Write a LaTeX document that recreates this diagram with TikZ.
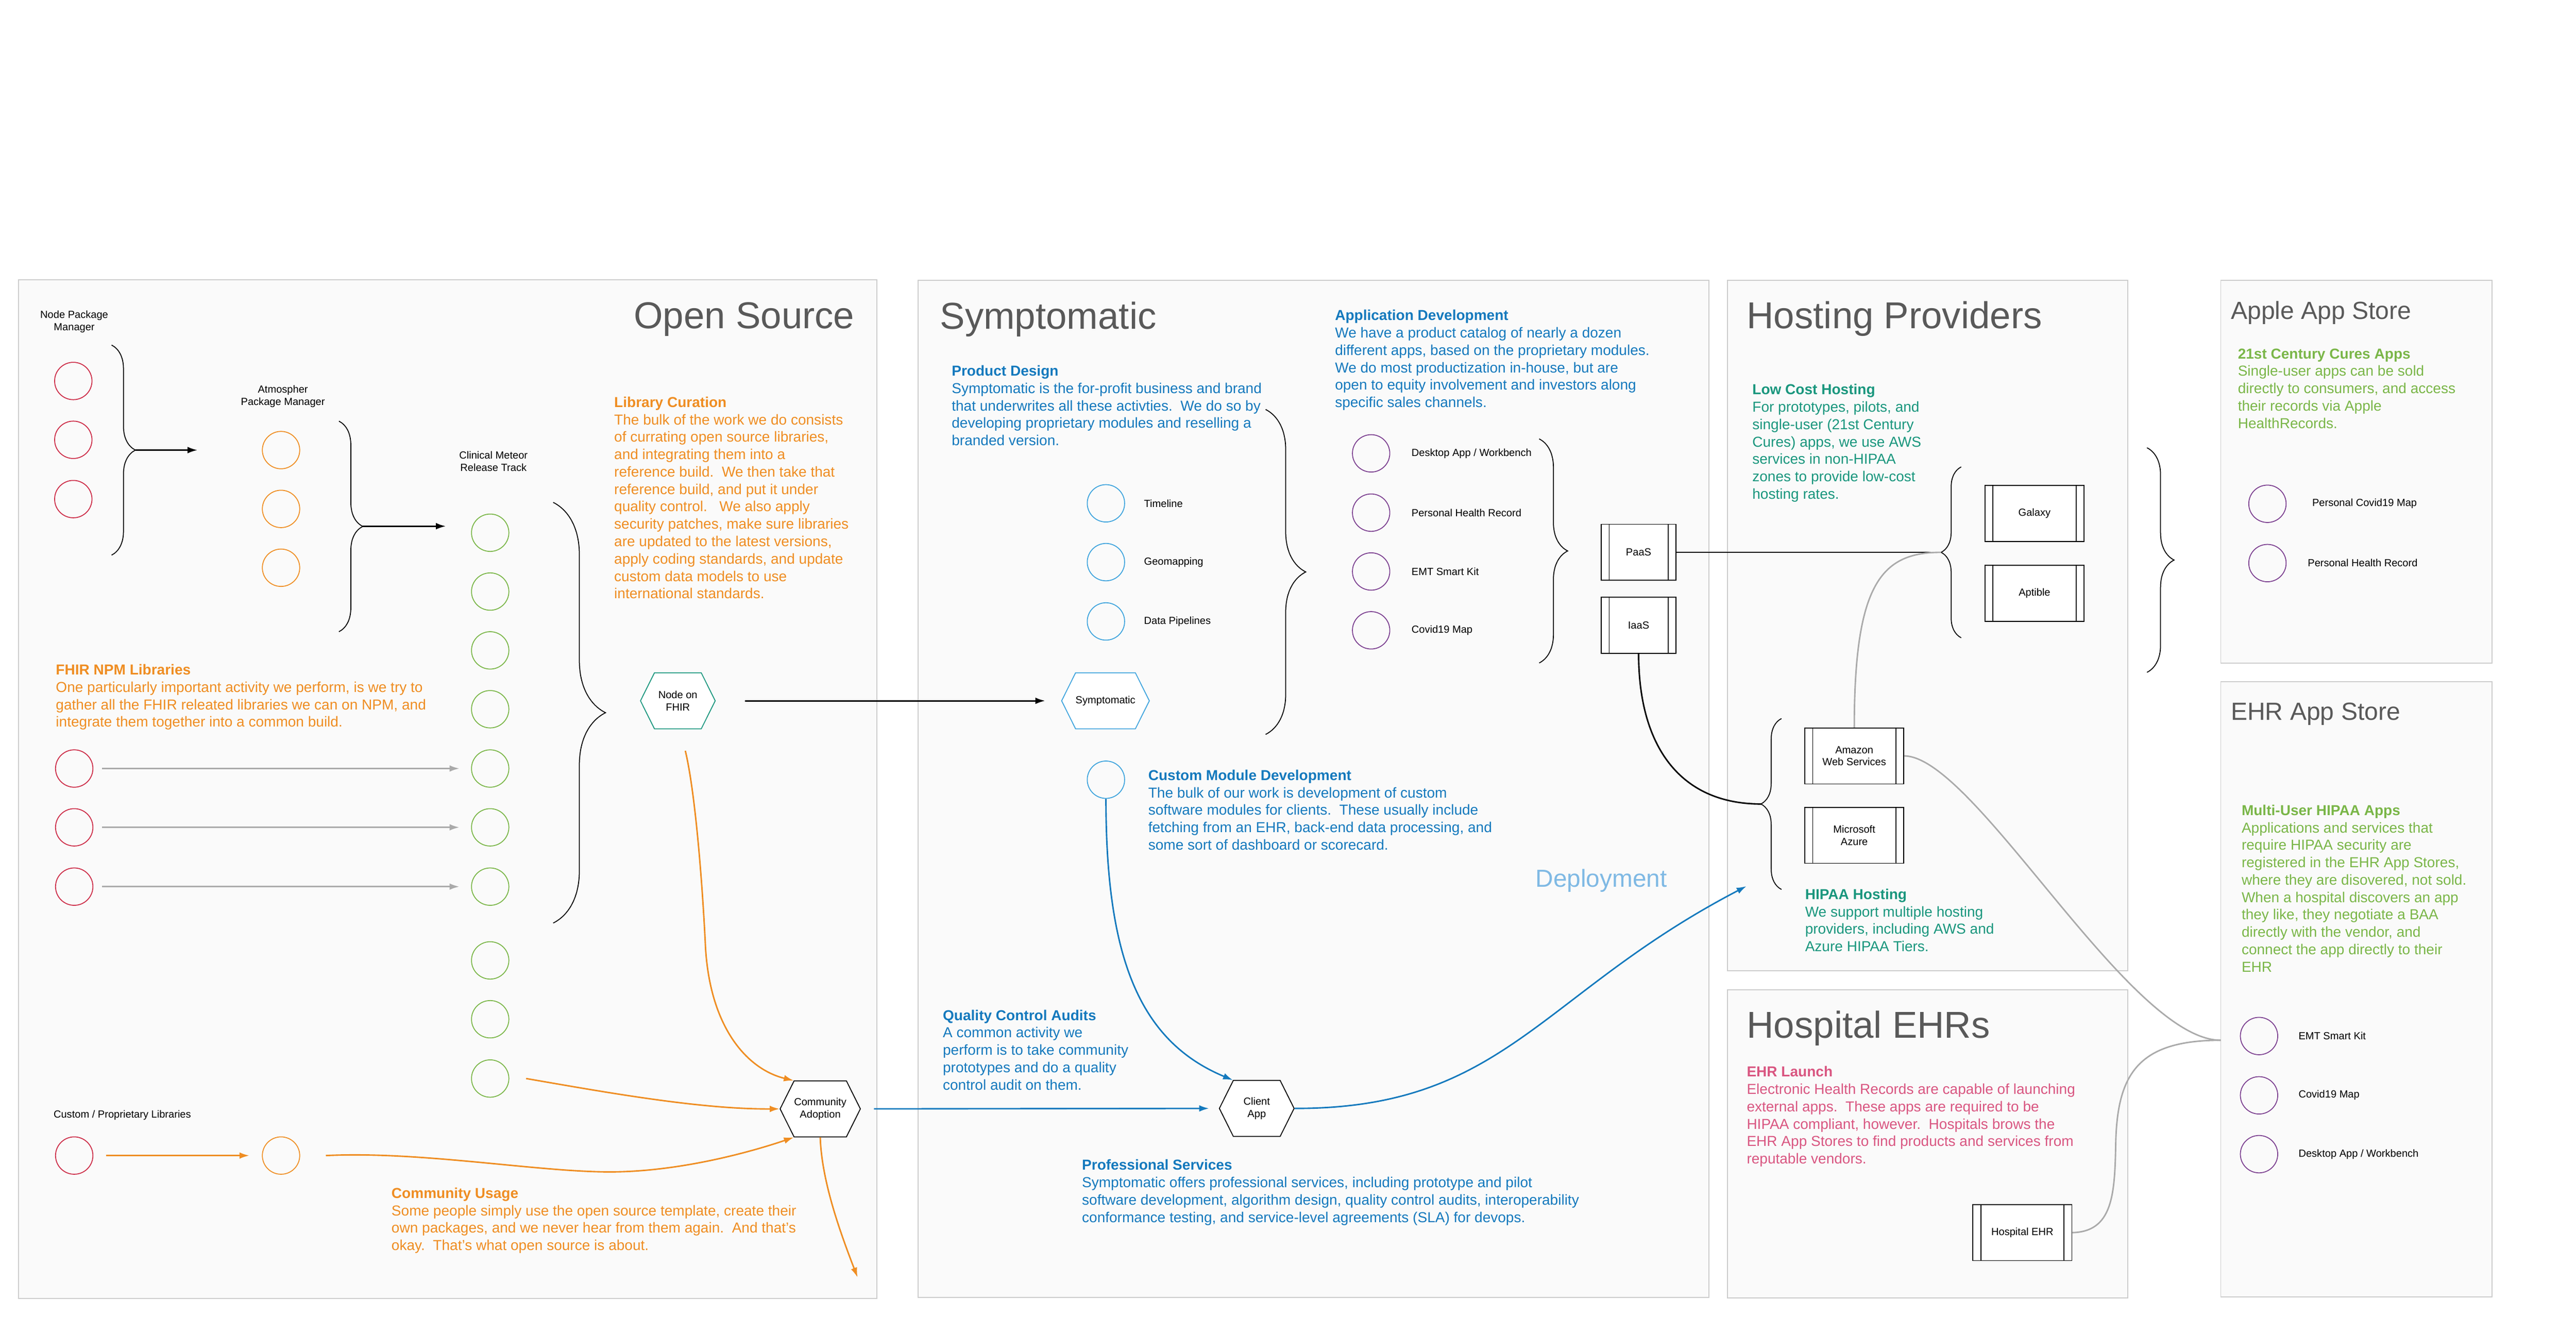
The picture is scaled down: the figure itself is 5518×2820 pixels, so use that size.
\documentclass[tikz,border=0pt]{standalone}
\usepackage{fontspec}
\setmainfont{Liberation Sans}
\usetikzlibrary{positioning,arrows.meta,shapes.symbols,decorations.pathreplacing}

\definecolor{panelfill}{HTML}{FAFAFA}
\definecolor{panelline}{HTML}{CCCCCC}
\definecolor{titlegray}{HTML}{595959}
\definecolor{osred}{HTML}{CC2A45}
\definecolor{osorange}{HTML}{EF8D22}
\definecolor{osgreen}{HTML}{7AB648}
\definecolor{symblue}{HTML}{1479BD}
\definecolor{skyblue}{HTML}{3DA3DD}
\definecolor{appurple}{HTML}{7B3F8F}
\definecolor{hostteal}{HTML}{19967D}
\definecolor{storegreen}{HTML}{7AB648}
\definecolor{ehrpink}{HTML}{D95681}
\definecolor{deploy}{HTML}{7FB9E4}
\definecolor{wire}{HTML}{AAAAAA}

\tikzset{procbox/.style={draw,fill=white,line width=0.55pt,minimum width=#1,minimum height=1.2cm,inner sep=0pt,
    font=\fontsize{6.3}{7.4}\selectfont,align=center,
    path picture={\draw[line width=0.55pt] ([xshift=0.17cm]path picture bounding box.north west) -- ([xshift=0.17cm]path picture bounding box.south west)
        ([xshift=-0.17cm]path picture bounding box.north east) -- ([xshift=-0.17cm]path picture bounding box.south east);}},
    procbox/.default=2.12cm}

\begin{document}
\begin{tikzpicture}[
        x=0.01cm,y=-0.01cm,
        panel/.style={draw=panelline,fill=panelfill,line width=0.6pt},
        bigtitle/.style={font=\fontsize{22.8}{26}\selectfont,text=titlegray,inner sep=0pt},
        midtitle/.style={font=\fontsize{15.1}{18}\selectfont,text=titlegray,inner sep=0pt},
        blurb/.style={font=\fontsize{8.8}{10.6}\selectfont,align=left,anchor=north west,inner sep=0pt,text=#1},
        lbl/.style={font=\fontsize{6.3}{7.4}\selectfont,align=center,inner sep=0pt},
        dot/.style={circle,draw=#1,line width=0.55pt,minimum size=0.8cm,inner sep=0pt},
        hexa/.style={signal,signal to=east and west,signal pointer angle=127,draw=#1,fill=white,line width=0.55pt,
            minimum width=1.6cm,minimum height=1.2cm,inner sep=0pt,font=\fontsize{6.3}{7.4}\selectfont,align=center},
        curly/.style={decorate,decoration={brace,amplitude=#1},line width=0.55pt},
        tip/.style={-{Latex[length=6pt,width=4pt]}},
        arrow/.style={line width=0.9pt,tip,black},
        link/.style={line width=0.9pt,#1}
    ]
    \useasboundingbox (0,0) rectangle (5518,2820);

    % panels
    \draw[panel] (40,599) rectangle (1878,2781);
    \draw[panel] (1967,600) rectangle (3661,2779);
    \draw[panel] (3700,600) rectangle (4558,2079);
    \draw[panel] (3700,2120) rectangle (4558,2780);
    \draw[panel] (4757,600) rectangle (5338,1420);
    \draw[panel] (4757,1460) rectangle (5338,2778);

    \node[bigtitle,anchor=base east] (ostitle) at (1831,704) {Open Source};
    \node[bigtitle,anchor=base west] (symtitle) at (2013,705) {Symptomatic};
    \node[bigtitle,anchor=base west] (hosttitle) at (3741,704) {Hosting Providers};
    \node[bigtitle,anchor=base west] (ehrtitle) at (3741,2223) {Hospital EHRs};
    \node[midtitle,anchor=base west] (appletitle) at (4778,684) {Apple App Store};
    \node[midtitle,anchor=base west] (storetitle) at (4778,1542) {EHR App Store};

    % open source
    \node[lbl] (npmlbl) at (159,689) {Node Package\\Manager};
    \node[lbl] (atmoslbl) at (606,849) {Atmospher\\Package Manager};
    \node[lbl] (meteorlbl) at (1057,988) {Clinical Meteor\\Release Track};
    \foreach \y [count=\i] in {816,942,1069} {
        \node[dot=osred] (npm\i) at (157,\y) {};
    }
    \foreach \y [count=\i] in {964,1090,1216} {
        \node[dot=osorange] (atmos\i) at (602,\y) {};
    }
    \foreach \y [count=\i] in {1141,1267,1393,1519,1646,1772,1899,2057,2183,2310} {
        \node[dot=osgreen] (meteor\i) at (1050,\y) {};
    }
    \foreach \y [count=\i] in {1646,1772,1899} {
        \node[dot=osred] (fhirlib\i) at (159,\y) {};
    }
    \node[lbl] (custlbl) at (262,2389) {Custom / Proprietary Libraries};
    \node[dot=osred] (custred) at (159,2475) {};
    \node[dot=osorange] (custorange) at (602,2475) {};

    \draw[curly=0.51cm] (239,739) -- (239,1189);
    \draw[curly=0.51cm] (726,902) -- (726,1353);
    \draw[curly=1.12cm] (1185,1076) -- (1185,1977);
    \coordinate (npmtip) at (290,964);
    \coordinate (npmout) at (423,964);
    \coordinate (atmostip) at (777,1127);
    \coordinate (atmosout) at (955,1127);
    \draw[arrow] (npmtip) -- (npmout);
    \draw[arrow] (atmostip) -- (atmosout);

    \node[hexa=hostteal] (fhir) at (1452,1501) {Node on\\FHIR};
    \node[hexa=black] (adoption) at (1757,2375) {Community\\Adoption};

    \foreach \i/\j in {1/5,2/6,3/7} {
        \draw[link=wire,tip,shorten <=0.19cm,shorten >=0.25cm] (fhirlib\i) -- (meteor\j);
    }
    \draw[link=osorange,tip,shorten <=0.27cm,shorten >=0.27cm] (custred) -- (custorange);
    \draw[link=osorange,tip] ([shift={(16,46)}]fhir.south) .. controls (1490,1700) and (1505,1900) .. (1511,2025)
        .. controls (1520,2200) and (1600,2290) .. (adoption.north west);
    \draw[link=osorange,tip] ([xshift=0.36cm]meteor10.east) .. controls (1300,2340) and (1500,2376) .. (adoption.west);
    \draw[link=osorange,tip] ([xshift=0.55cm]custorange.east) .. controls (900,2465) and (1150,2510) .. (1306,2510)
        .. controls (1450,2510) and (1600,2470) .. (adoption.south west);
    \coordinate (usageout) at (1837,2736);
    \draw[link=osorange,tip] (adoption.south) .. controls (1760,2530) and (1800,2640) .. (usageout);

    \node[blurb=osorange] (curation) at (1315,849) {\textbf{Library Curation}\\
        The bulk of the work we do consists\\
        of currating open source libraries,\\
        and integrating them into a\\
        reference build.\ \ We then take that\\
        reference build, and put it under\\
        quality control.\ \ \ We also apply\\
        security patches, make sure libraries\\
        are updated to the latest versions,\\
        apply coding standards, and update\\
        custom data models to use\\
        international standards.};
    \node[blurb=osorange] (npmtext) at (119,1422) {\textbf{FHIR NPM Libraries}\\
        One particularly important activity we perform, is we try to\\
        gather all the FHIR releated libraries we can on NPM, and\\
        integrate them together into a common build.};
    \node[blurb=osorange] (usage) at (838,2543) {\textbf{Community Usage}\\
        Some people simply use the open source template, create their\\
        own packages, and we never hear from them again.\ \ And that's\\
        okay.\ \ That's what open source is about.};

    % symptomatic
    \node[hexa=skyblue] (symptomatic) at (2368,1501) {Symptomatic};
    \node[hexa=black] (client) at (2692,2374) {Client\\App};
    \draw[arrow,shorten <=0.63cm,shorten >=0.34cm] (fhir.east) -- (symptomatic.west);

    \foreach \y/\t [count=\i] in {1078/Timeline,1204/Geomapping,1331/{Data Pipelines}} {
        \node[dot=skyblue] (module\i) at (2369,\y) {};
        \node[lbl,anchor=west] (modulelbl\i) at (2450,\y) {\t};
    }
    \node[dot=skyblue] (custom) at (2369,1670) {};
    \foreach \y/\t [count=\i] in {971/{Desktop App / Workbench},1098/{Personal Health Record},1224/{EMT Smart Kit},1350/{Covid19 Map}} {
        \node[dot=appurple] (app\i) at (2937,\y) {};
        \node[lbl,anchor=west] (applbl\i) at (3023,\y) {\t};
    }
    \draw[curly=0.86cm] (2711,877) -- (2711,1573);
    \draw[curly=0.61cm] (3297,940) -- (3297,1420);
    \node[procbox=1.6cm] (paas) at (3510,1183) {PaaS};
    \node[procbox=1.6cm] (iaas) at (3510,1339) {IaaS};

    \draw[link=symblue,tip,shorten <=0.28cm,shorten >=0.21cm] (adoption.east) -- (client.west);
    \draw[link=symblue,tip] (custom.south) .. controls (2369,2050) and (2440,2230) .. (client.north west);
    \coordinate (deployout) at (3741,1898);
    \draw[link=symblue,tip] (client.east) .. controls (3223,2375) and (3297,2129) .. (deployout);
    \node[font=\fontsize{15}{18}\selectfont,text=deploy,inner sep=0pt] (deploylbl) at (3430,1886) {Deployment};

    \node[blurb=symblue] (design) at (2038,782) {\textbf{Product Design}\\
        Symptomatic is the for-profit business and brand\\
        that underwrites all these activties.\ \ We do so by\\
        developing proprietary modules and reselling a\\
        branded version.};
    \node[blurb=symblue] (appdev) at (2859,663) {\textbf{Application Development}\\
        We have a product catalog of nearly a dozen\\
        different apps, based on the proprietary modules.\\
        We do most productization in-house, but are\\
        open to equity involvement and investors along\\
        specific sales channels.};
    \node[blurb=symblue] (customtext) at (2459,1648) {\textbf{Custom Module Development}\\
        The bulk of our work is development of custom\\
        software modules for clients.\ \ These usually include\\
        fetching from an EHR, back-end data processing, and\\
        some sort of dashboard or scorecard.};
    \node[blurb=symblue] (audits) at (2019,2162) {\textbf{Quality Control Audits}\\
        A common activity we\\
        perform is to take community\\
        prototypes and do a quality\\
        control audit on them.};
    \node[blurb=symblue] (services) at (2317,2483) {\textbf{Professional Services}\\
        Symptomatic offers professional services, including prototype and pilot\\
        software development, algorithm design, quality control audits, interoperability\\
        conformance testing, and service-level agreements (SLA) for devops.};

    % hosting
    \draw[curly=0.43cm] (4201,1366) -- (4201,1000);
    \draw[curly=0.58cm] (4599,959) -- (4599,1440);
    \draw[curly=0.44cm] (3816,1905) -- (3816,1539);
    \coordinate (lowtip) at (4158,1183);
    \coordinate (hipaatip) at (3772,1722);
    \node[procbox] (galaxy) at (4358,1100) {Galaxy};
    \node[procbox] (aptible) at (4358,1271) {Aptible};
    \node[procbox] (aws) at (3972,1619) {Amazon\\Web Services};
    \node[procbox] (azure) at (3972,1789) {Microsoft\\Azure};
    \node[procbox] (hospital) at (4332,2640) {Hospital EHR};
    \draw[link=black] (paas.east) -- (lowtip);
    \draw[link=black] (iaas.south) .. controls (3510,1600) and (3600,1722) .. (hipaatip);
    \draw[link=wire] (lowtip) .. controls (4030,1183) and (3972,1250) .. (aws.north);

    \node[blurb=hostteal] (lowcost) at (3753,822) {\textbf{Low Cost Hosting}\\
        For prototypes, pilots, and\\
        single-user (21st Century\\
        Cures) apps, we use AWS\\
        services in non-HIPAA\\
        zones to provide low-cost\\
        hosting rates.};
    \node[blurb=hostteal] (hipaa) at (3866,1903) {\textbf{HIPAA Hosting}\\
        We support multiple hosting\\
        providers, including AWS and\\
        Azure HIPAA Tiers.};
    \node[blurb=ehrpink] (launch) at (3741,2283) {\textbf{EHR Launch}\\
        Electronic Health Records are capable of launching\\
        external apps.\ \ These apps are required to be\\
        HIPAA compliant, however.\ \ Hospitals brows the\\
        EHR App Stores to find products and services from\\
        reputable vendors.};

    % app stores
    \node[blurb=storegreen] (cures) at (4793,746) {\textbf{21st Century Cures Apps}\\
        Single-user apps can be sold\\
        directly to consumers, and access\\
        their records via Apple\\
        HealthRecords.};
    \node[dot=appurple] (apple1) at (4857,1079) {};
    \node[dot=appurple] (apple2) at (4857,1206) {};
    \node[lbl] (applelbl1) at (5065,1079) {Personal Covid19 Map};
    \node[lbl] (applelbl2) at (5061,1206) {Personal Health Record};

    \node[blurb=storegreen] (multiuser) at (4801,1723) {\textbf{Multi-User HIPAA Apps}\\
        Applications and services that\\
        require HIPAA security are\\
        registered in the EHR App Stores,\\
        where they are disovered, not sold.\\
        When a hospital discovers an app\\
        they like, they negotiate a BAA\\
        directly with the vendor, and\\
        connect the app directly to their\\
        EHR};
    \foreach \y/\t [count=\i] in {2219/{EMT Smart Kit},2346/{Covid19 Map},2472/{Desktop App / Workbench}} {
        \node[dot=appurple] (store\i) at (4839,\y) {};
        \node[lbl,anchor=west] (storelbl\i) at (4923,\y) {\t};
    }
    \coordinate (storein) at (4757,2228);
    \draw[link=wire] (aws.east) .. controls (4230,1620) and (4560,2228) .. (storein);
    \draw[link=wire] (hospital.east) .. controls (4525,2638) and (4530,2560) .. (4532,2450)
        .. controls (4535,2300) and (4580,2228) .. (storein);
\end{tikzpicture}
\end{document}
